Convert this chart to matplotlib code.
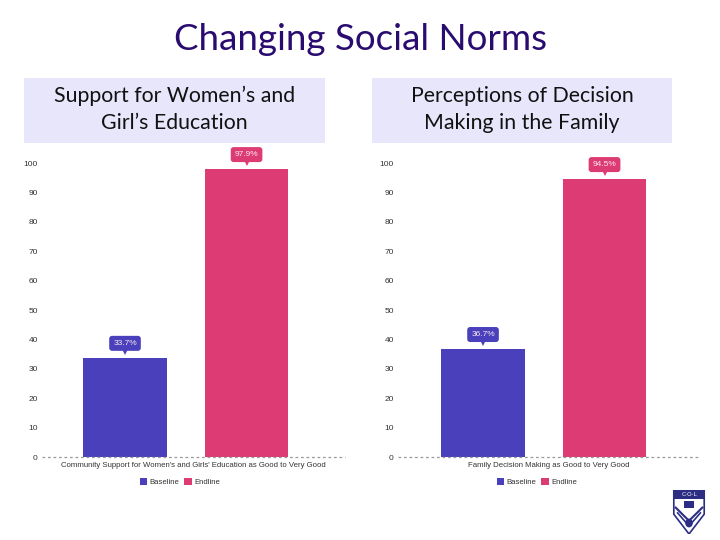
import matplotlib.pyplot as plt
import matplotlib.patches as mpatches
from matplotlib.transforms import offset_copy

# Datos del gráfico
series = ["Baseline", "Endline"]
colores = ["#4a40bb", "#dd3b73"]
titulo = "Changing Social Norms"

encabezados = ["Support for Women’s and\nGirl’s Education",
               "Perceptions of Decision\nMaking in the Family"]
etiquetas_x = ["Community Support for Women's and Girls' Education as Good to Very Good",
               "Family Decision Making as Good to Very Good"]
valores = [[33.7, 97.9], [36.7, 94.5]]
ticks_y = [0, 10, 20, 30, 40, 50, 60, 70, 80, 90, 100]

W, H = 720, 540
fig = plt.figure(figsize=(7.2, 5.4), dpi=100)
fig.patch.set_facecolor("white")
arial = ["Liberation Sans", "DejaVu Sans"]


def px(x0, y0, x1, y1):
    # convierte un rectángulo en píxeles (origen arriba-izquierda) a fracción de figura
    return [x0 / W, 1 - y1 / H, (x1 - x0) / W, (y1 - y0) / H]


fig.text(0.5, 1 - 40 / H, titulo, ha="center", va="center",
         fontsize=26.5, color="#2a0c70", family=["Lato", "DejaVu Sans"])

# cajas de encabezado
cajas = [(24, 78, 325, 143), (372, 78, 672, 143)]
for (x0, y0, x1, y1), txt in zip(cajas, encabezados):
    fig.patches.append(mpatches.Rectangle((x0 / W, 1 - y1 / H), (x1 - x0) / W, (y1 - y0) / H,
                                          transform=fig.transFigure, facecolor="#e8e6fb",
                                          edgecolor="none", zorder=0))
    fig.text((x0 + x1) / 2 / W, 1 - (y0 + y1 - 2) / 2 / H, txt, ha="center", va="center",
             fontsize=15.3, color="#111111", linespacing=1.45, family=["Lato", "DejaVu Sans"])

# ejes de cada gráfico
marcos = [(42, 163, 345, 457), (398, 163, 700, 457)]
limites = [(-0.683, 1.81), (-0.70, 1.786)]
centro_leyenda = [0.455, 0.46]

for i, ax_rect in enumerate(marcos):
    ax = fig.add_axes(px(*ax_rect))
    ax.set_xlim(*limites[i])
    ax.set_ylim(0, 100)
    for s in ax.spines.values():
        s.set_visible(False)
    ax.axhline(0, color="#999999", lw=0.9, ls=(0, (2.2, 2.2)), clip_on=False, zorder=3)
    ax.set_yticks(ticks_y)
    ax.tick_params(axis="y", length=0, labelsize=6, labelcolor="#333333", pad=3)
    for t in ax.get_yticklabels():
        t.set_family(arial)
    ax.set_xticks([])
    ax.set_facecolor("none")

    for j, v in enumerate(valores[i]):
        ax.bar(j, v, width=0.69, color=colores[j], label=series[j], zorder=2)
        # etiqueta con globo
        tr = offset_copy(ax.transData, fig=fig, x=0, y=4.5, units="points")
        ax.plot(j, v, marker="v", ms=4.5, mew=0, color=colores[j], transform=tr,
                clip_on=False, zorder=3)
        ax.annotate(f"{v}%", (j, v), xytext=(0, 10.5), textcoords="offset points",
                    ha="center", va="center", fontsize=6, color="#fbe8f0",
                    family=arial,
                    bbox=dict(boxstyle="round,pad=0.48,rounding_size=0.35",
                              fc=colores[j], ec="none"),
                    annotation_clip=False, zorder=4)

    ax.text(0.5, -5 / 294, etiquetas_x[i], transform=ax.transAxes,
            ha="center", va="top", fontsize=5.6, color="#333333", family=arial)
    ax.legend(loc="upper center", bbox_to_anchor=(centro_leyenda[i], -0.047), ncol=2,
              frameon=False, handlelength=1.0, handleheight=1.0, handletextpad=0.3,
              columnspacing=0.6, labelcolor="#333333", prop={"family": arial, "size": 5.6})

# logo simple en la esquina
lg = fig.add_axes(px(670, 490, 708, 534))
lg.set_xlim(0, 1)
lg.set_ylim(0, 1)
lg.axis("off")
azul = "#2b2e83"
lg.add_patch(mpatches.Polygon([[0.1, 1], [0.9, 1], [0.9, 0.45], [0.5, 0.0], [0.1, 0.45]],
                              closed=True, fc="white", ec=azul, lw=1.2))
lg.add_patch(mpatches.Rectangle((0.1, 0.8), 0.8, 0.2, fc=azul, ec="none"))
lg.text(0.5, 0.9, "C·O·L", ha="center", va="center", fontsize=4.2, color="white")
lg.plot([0.15, 0.5, 0.85], [0.6, 0.3, 0.6], color=azul, lw=1.5)
lg.plot([0.2, 0.5, 0.8], [0.48, 0.18, 0.48], color=azul, lw=1.2)
lg.add_patch(mpatches.Circle((0.5, 0.25), 0.1, fc=azul, ec="none"))
lg.add_patch(mpatches.Rectangle((0.38, 0.6), 0.24, 0.14, fc=azul, ec="none"))

fig.savefig("out.png", dpi=100)
